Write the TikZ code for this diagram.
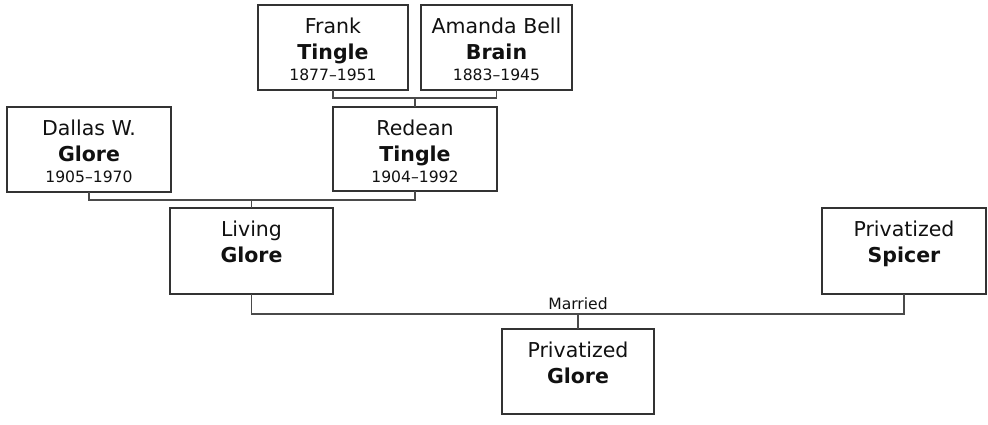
\documentclass[tikz,border=0pt]{standalone}
\usepackage{fontspec}
\setmainfont{DejaVu Sans}
\definecolor{boxline}{HTML}{333333}
\definecolor{conline}{HTML}{4A4A4A}
\definecolor{txt}{HTML}{111111}
\tikzset{
  pbox/.style={draw=boxline, line width=1.4pt, fill=white, rectangle, inner sep=0pt, outer sep=0pt, anchor=north west},
  fname/.style={anchor=base, inner sep=0pt, text=txt, font=\fontsize{20.5}{24}\selectfont},
  lname/.style={anchor=base, inner sep=0pt, text=txt, font=\fontsize{20.5}{24}\selectfont\bfseries},
  dates/.style={anchor=base, inner sep=0pt, text=txt, font=\fontsize{15.6}{18}\selectfont},
  conn/.style={draw=conline, line width=1.3pt}
}
% #1 name, #2 left, #3 top, #4 width, #5 height, #6 first, #7 last, #8 dates
\newcommand\personbox[8]{%
  \node[pbox, minimum width=#4pt, minimum height=#5pt] (#1) at (#2,#3) {};
  \node[fname] (#1-f) at ([yshift=-28pt]#1.north) {#6};
  \node[lname] (#1-l) at ([yshift=-54.5pt]#1.north) {#7};
  \node[dates] (#1-d) at ([yshift=-75.5pt]#1.north) {#8};
}
\begin{document}
\begin{tikzpicture}[x=1pt,y=-1pt]
\useasboundingbox (0,0) rectangle (988,424);
\personbox{frank}{258}{5}{150}{85}{Frank}{Tingle}{1877–1951}
\personbox{amanda}{421}{5}{151}{85}{Amanda Bell}{Brain}{1883–1945}
\personbox{redean}{333}{107}{164}{84}{Redean}{Tingle}{1904–1992}
\personbox{dallas}{7}{107}{164}{85}{Dallas W.}{Glore}{1905–1970}
\personbox{living}{170}{208}{163}{86}{Living}{Glore}{}
\personbox{spicer}{822}{208}{164}{86}{Privatized}{Spicer}{}
\personbox{child}{502}{329}{152}{85}{Privatized}{Glore}{}
% parents of Redean
\coordinate (fa) at (redean.north |- 0,98);
\draw[conn] (frank.south) |- (fa) -| (amanda.south);
\draw[conn] (fa) -- (redean.north);
% parents of Living
\coordinate (dr) at (living.north |- 0,200);
\draw[conn] (dallas.south) |- (dr) -| (redean.south);
\draw[conn] (dr) -- (living.north);
% married
\coordinate (ls) at (child.north |- 0,314);
\draw[conn] (living.south) |- (ls) -| (spicer.south);
\draw[conn] (ls) -- (child.north);
\node[dates, font=\fontsize{15.6}{18}\selectfont] (married) at (578,309.5) {Married};
\end{tikzpicture}
\end{document}
